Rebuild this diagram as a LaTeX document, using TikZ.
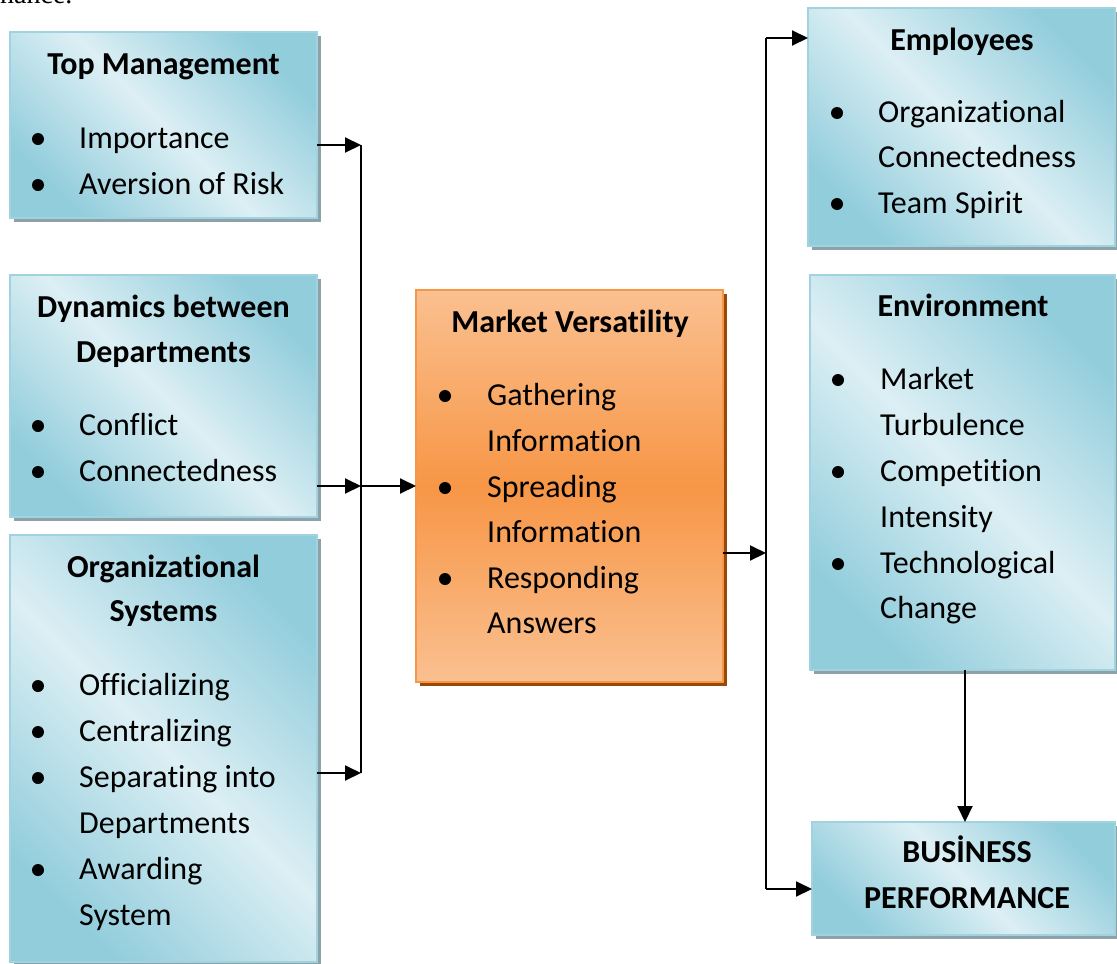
\documentclass[tikz,border=0pt]{standalone}
\usepackage{fontspec}
\setmainfont[Ligatures=NoCommon,RawFeature=-liga;-clig;-dlig]{Carlito}
\newfontfamily\serifcut{Liberation Serif}
\usetikzlibrary{arrows.meta,shadows}
\definecolor{aqd}{RGB}{146,205,220}
\definecolor{aql}{RGB}{220,239,244}
\definecolor{aqb}{RGB}{160,210,224}
\definecolor{shg}{RGB}{140,162,168}
\definecolor{orl}{RGB}{250,192,144}
\definecolor{orm}{RGB}{247,150,70}
\definecolor{orb}{RGB}{246,150,72}
\definecolor{orsh}{RGB}{152,72,7}
\tikzset{
 bluebox/.style={draw=aqb, line width=1.5pt, top color=aqd, bottom color=aqd, middle color=aql, shading angle=-45, inner sep=0pt, outer sep=0pt, anchor=north west, general shadow={fill=shg, shadow xshift=3.5pt, shadow yshift=-4pt}},
 orbox/.style={draw=orb, line width=2pt, top color=orl, bottom color=orl, middle color=orm, inner sep=0pt, outer sep=0pt, anchor=north west, general shadow={fill=orsh, shadow xshift=4pt, shadow yshift=-4pt}},
 txt/.style={font=\fontsize{32}{46}\selectfont, inner sep=0pt, anchor=base west},
 ttl/.style={font=\bfseries\fontsize{32}{46}\selectfont, inner sep=0pt, anchor=base},
 bdot/.style={circle, fill=black, inner sep=0pt, minimum size=12pt},
 conn/.style={line width=2pt, black},
 arr/.style={conn, -{Triangle[length=16pt,width=15pt]}},
}
\newcommand\bitem[5]{\node[bdot] (#1b) at (#2,#4-9) {}; \node[txt] (#1) at (#3,#4) {#5};}
\begin{document}
\begin{tikzpicture}[x=1pt,y=-1pt]
\useasboundingbox (0,0) rectangle (1117,964);
\node[font=\serifcut\fontsize{28}{30}\selectfont, anchor=base west, inner sep=0pt] (cut) at (0,3) {nance.};

% boxes
\node[bluebox, minimum width=307pt, minimum height=186pt] (tm) at (10,32) {};
\node[bluebox, minimum width=307pt, minimum height=242pt] (dy) at (10,275) {};
\node[bluebox, minimum width=307pt, minimum height=427pt] (os) at (10,535) {};
\node[orbox, minimum width=307pt, minimum height=392pt] (mv) at (416,290) {};
\node[bluebox, minimum width=307pt, minimum height=238pt] (em) at (808,8) {};
\node[bluebox, minimum width=305pt, minimum height=395pt] (en) at (810,275) {};
\node[bluebox, minimum width=303pt, minimum height=113pt] (bp) at (812,822) {};

% Top Management
\node[ttl] (tmt) at (163.5,74) {Top Management};
\bitem{tm1}{38}{79}{148}{Importance}
\bitem{tm2}{38}{79}{194}{Aversion of Risk}

% Dynamics
\node[ttl] (dyt1) at (163.5,317) {Dynamics between};
\node[ttl] (dyt2) at (163.5,362) {Departments};
\bitem{dy1}{38}{79}{435}{Conflict}
\bitem{dy2}{38}{79}{481}{Connectedness}

% Organizational Systems
\node[ttl] (ost1) at (163.5,577) {Organizational};
\node[ttl] (ost2) at (163.5,621) {Systems};
\bitem{os1}{38}{79}{695}{Officializing}
\bitem{os2}{38}{79}{741}{Centralizing}
\bitem{os3}{38}{79}{787}{Separating into}
\node[txt] (os3b2) at (79,833) {Departments};
\bitem{os4}{38}{79}{879}{Awarding}
\node[txt] (os4b2) at (79,925) {System};

% Market Versatility
\node[ttl] (mvt) at (570,332) {Market Versatility};
\bitem{mv1}{445}{487}{405}{Gathering}
\node[txt] (mv1c) at (487,451) {Information};
\bitem{mv2}{445}{487}{497}{Spreading}
\node[txt] (mv2c) at (487,542) {Information};
\bitem{mv3}{445}{487}{588}{Responding}
\node[txt] (mv3c) at (487,633) {Answers};

% Employees
\node[ttl] (emt) at (962,50) {Employees};
\bitem{em1}{837}{878}{122}{Organizational}
\node[txt] (em1c) at (878,167) {Connectedness};
\bitem{em2}{837}{878}{213}{Team Spirit}

% Environment
\node[ttl] (ent) at (963,316) {Environment};
\bitem{en1}{838}{880}{389}{Market}
\node[txt] (en1c) at (880,435) {Turbulence};
\bitem{en2}{838}{880}{481}{Competition}
\node[txt] (en2c) at (880,527) {Intensity};
\bitem{en3}{838}{880}{573}{Technological}
\node[txt] (en3c) at (880,618) {Change};

% Business Performance
\node[ttl] (bpt1) at (967,862) {BUSİNESS};
\node[ttl] (bpt2) at (967,908) {PERFORMANCE};

% junctions
\coordinate (jL1) at (361,145);
\coordinate (jL2) at (361,486);
\coordinate (jL3) at (361,773);
\coordinate (jR1) at (766,38);
\coordinate (jR2) at (766,553);
\coordinate (jR3) at (766,889);
\coordinate (jE) at (965,670);

% connectors
\draw[conn] (jL1) -- (jL3);
\draw[conn] (jR1) -- (jR3);
\draw[arr] (tm.east |- jL1) -- (jL1);
\draw[arr] (dy.east |- jL2) -- (jL2);
\draw[arr] (os.east |- jL3) -- (jL3);
\draw[arr] (jL2) -- (mv.west |- jL2);
\draw[arr] (mv.east |- jR2) -- (jR2);
\draw[arr] (jR1) -- (em.west |- jR1);
\draw[arr] (jR3) -- (bp.west |- jR3);
\draw[arr] (jE |- en.south) -- (jE |- bp.north);
\end{tikzpicture}
\end{document}
